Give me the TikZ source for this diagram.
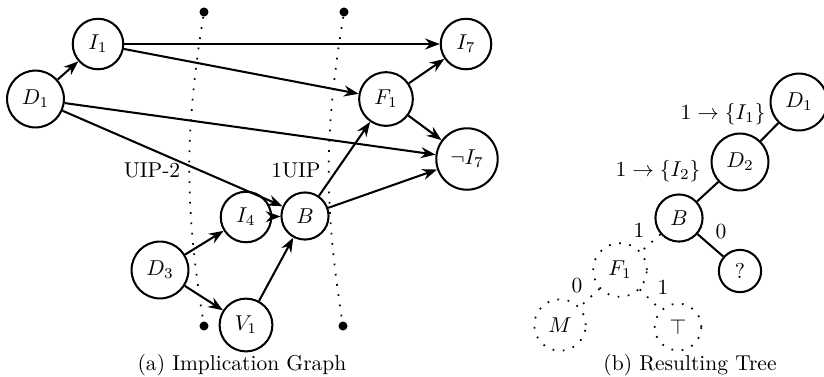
\documentclass[tikz,border=0pt]{standalone}
\usepackage{amsmath,amssymb}
\usetikzlibrary{arrows.meta}

\begin{document}
\begin{tikzpicture}[x=0.465pt,y=-0.465pt,
 var/.style={circle,draw,line width=0.95pt,inner sep=4pt},
 ghost/.style={circle,draw,thick,loosely dotted,inner sep=4pt},
 imp/.style={-{Stealth[length=2.4mm,width=1.8mm,inset=0.8mm]},line width=0.95pt},
 branch/.style={line width=0.95pt},
 ghostbranch/.style={thick,loosely dotted},
 cutline/.style={thick,loosely dotted},
 cutend/.style={circle,fill,inner sep=0pt,minimum size=4.2pt}]
\useasboundingbox (0,0) rectangle (824,376);

% Implication graph; positions are read off the page in pixels.
\node[var] (d1) at (35.5,99) {$D_1$};
\node[var] (i1) at (98,44) {$I_1$};
\node[var] (i7) at (466,44) {$I_7$};
\node[var] (f1) at (386,99) {$F_1$};
\node[var] (ni7) at (467,159) {$\neg I_7$};
\node[var] (b) at (305,216) {$B$};
\node[var] (i4) at (246,217) {$I_4$};
\node[var] (d3) at (160,270) {$D_3$};
\node[var] (v1) at (246,325) {$V_1$};

\draw[imp] (d1) -- (i1);
\draw[imp] (i1) -- (i7);
\draw[imp] (i1) -- (f1);
\draw[imp] (d1) -- (ni7);
\draw[imp] (d1) -- (b);
\draw[imp] (d3) -- (i4);
\draw[imp] (d3) -- (v1);
\draw[imp] (i4) -- (b);
\draw[imp] (v1) -- (b);
\draw[imp] (b) -- (f1);
\draw[imp] (b) -- (ni7);
\draw[imp] (f1) -- (i7);
\draw[imp] (f1) -- (ni7);

% The two cuts, each bowed slightly to the left.
\node[cutend] (uiptwotop) at (204,12) {};
\node[cutend] (uiptwobot) at (204,326) {};
\node[cutend] (uiponetop) at (344,12) {};
\node[cutend] (uiponebot) at (343,326) {};
\draw[cutline] (uiptwotop) to[bend right=9] (uiptwobot);
\draw[cutline] (uiponetop) to[bend right=9] (uiponebot);
\node[anchor=base] (uiptwo) at (152,177) {UIP-2};
\node[anchor=base] (uipone) at (296,177) {1UIP};

\node[anchor=base] (capa) at (242,370) {(a) Implication Graph};

% Resulting tree
\node[var] (td1) at (799,102) {$D_1$};
\node[var] (td2) at (740,162) {$D_2$};
\node[var] (tb) at (679,218) {$B$};
\node[var] (tq) at (740,271) {?};
\node[ghost] (tf1) at (620,270) {$F_1$};
\node[ghost] (tm) at (560,325) {$M$};
\node[ghost] (ttop) at (678,327) {$\top$};

\draw[branch] (td1) -- (td2);
\draw[branch] (td2) -- (tb);
\draw[branch] (tb) -- (tq);
\draw[ghostbranch] (tb) -- (tf1);
\draw[ghostbranch] (tf1) -- (tm);
\draw[ghostbranch] (tf1) -- (ttop);

\node (lbd1) at (723,114) {$1 \rightarrow \{I_1\}$};
\node (lbd2) at (658,171) {$1 \rightarrow \{I_2\}$};
\node (lbbone) at (639,230) {1};
\node (lbbzero) at (721,232) {0};
\node (lbfzero) at (577,286) {0};
\node (lbfone) at (663,287) {1};

\node[anchor=base] (capb) at (690,370) {(b) Resulting Tree};
\end{tikzpicture}
\end{document}
